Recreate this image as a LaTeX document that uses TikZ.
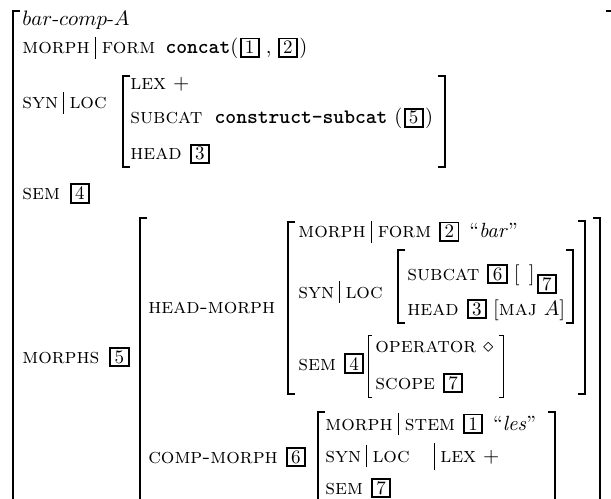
\documentclass[tikz,border=0pt]{standalone}
\usetikzlibrary{positioning}
\newcommand{\attr}[1]{{\fontsize{11.2}{14}\selectfont\textsc{#1}}}

\begin{document}
\begin{tikzpicture}[x=0.525pt,y=-0.525pt,
    lbl/.style={anchor=base west,inner sep=0pt,font=\fontsize{10.8}{13}\selectfont},
    tag/.style={draw,line width=1pt,inner sep=0pt,minimum size=9.6pt},
    brk/.style={line width=1pt},
    sbrk/.style={line width=0.5pt},
    pipe/.style={line width=0.5pt}]
  \useasboundingbox (0,0) rectangle (611,499);
  % outer matrix
  \draw[brk] (20,11) -| (13,505);
  \draw[brk] (606,11) -| (613,505);
  \node[lbl] (type) at (22,26) {$bar$-$comp$-$A$};
  % MORPH | FORM
  \node[lbl] (morph) at (22,54) {\attr{morph}};
  \node[lbl,base right=6pt of morph] (form) {\attr{form}};
  \draw[pipe] ([xshift=3pt,yshift=-2.5pt]morph.base east) -- ++(0,11.5pt);
  \node[lbl,base right=5pt of form] (concat) {\texttt{\bfseries concat}(};
  \node[tag,base right=0.5pt of concat] (t1) {1};
  \node[lbl,base right=3pt of t1] (comma) {,};
  \node[tag,base right=3pt of comma] (t2) {2};
  \node[lbl,base right=0.5pt of t2] (close) {)};
  % SYN | LOC
  \node[lbl] (syn) at (22,109) {\attr{syn}};
  \node[lbl,base right=5.5pt of syn] (loc) {\attr{loc}};
  \draw[pipe] ([xshift=2.75pt,yshift=-2.5pt]syn.base east) -- ++(0,11.5pt);
  \draw[brk] (130,76) -| (123,167) -- (130,167);
  \draw[brk] (438,76) -| (445,167) -- (438,167);
  \node[lbl] (lex) at (130,90) {\attr{lex} $+$};
  \node[lbl] (subcat) at (130,124) {\attr{subcat}};
  \node[lbl,base right=6pt of subcat] (cs) {\texttt{\bfseries construct-subcat} (};
  \node[tag,base right=0.5pt of cs] (t5) {5};
  \node[lbl,base right=0.5pt of t5] (csr) {)};
  \node[lbl] (head) at (130,160) {\attr{head}};
  \node[tag,base right=4pt of head] (t3) {3};
  % SEM
  \node[lbl] (sem) at (22,200) {\attr{sem}};
  \node[tag,base right=5pt of sem] (t4) {4};
  % MORPHS
  \node[lbl] (morphs) at (22,363) {\attr{morphs}};
  \node[tag,base right=5pt of morphs] (t5b) {5};
  \draw[brk] (147,218) -| (140,505);
  \draw[brk] (593,218) -| (600,505);
  % HEAD-MORPH
  \node[lbl] (hm) at (148,313) {\attr{head-morph}};
  \draw[brk] (295,222) -| (288,394) -- (295,394);
  \draw[brk] (578,221) -| (585,394) -- (578,394);
  \node[lbl] (hmorph) at (298,238) {\attr{morph}};
  \node[lbl,base right=6pt of hmorph] (hform) {\attr{form}};
  \draw[pipe] ([xshift=3pt,yshift=-2.5pt]hmorph.base east) -- ++(0,11.5pt);
  \node[tag,base right=4pt of hform] (t2b) {2};
  \node[lbl,base right=5pt of t2b] (bar) {``\textit{bar}''};
  \node[lbl] (hsyn) at (298,298) {\attr{syn}};
  \node[lbl,base right=5.5pt of hsyn] (hloc) {\attr{loc}};
  \draw[pipe] ([xshift=2.75pt,yshift=-2.5pt]hsyn.base east) -- ++(0,11.5pt);
  \draw[brk] (405,250) -| (398,323) -- (405,323);
  \draw[brk] (566,250) -| (573,323) -- (566,323);
  \node[lbl] (hsubcat) at (407,280) {\attr{subcat}};
  \node[tag,base right=4pt of hsubcat] (t6) {6};
  \node[lbl,base right=3pt of t6] (nil) {$[\;\,]$};
  \node[tag,anchor=west] (t7) at ([xshift=1pt,yshift=-2pt]nil.base east) {7};
  \node[lbl] (hhead) at (407,315) {\attr{head}};
  \node[tag,base right=4pt of hhead] (t3b) {3};
  \node[lbl,base right=3pt of t3b] (maj) {$\bigl[\mbox{\attr{maj}}\ A\bigr]$};
  \node[lbl] (hsem) at (298,370) {\attr{sem}};
  \node[tag,base right=4pt of hsem] (t4b) {4};
  \draw[sbrk] (372,335) -| (368,397) -- (372,397);
  \draw[sbrk] (499,335) -| (503,397) -- (499,397);
  \node[lbl] (op) at (375,352) {\attr{operator} $\diamond$};
  \node[lbl] (scope) at (375,389) {\attr{scope}};
  \node[tag,base right=4pt of scope] (t7b) {7};
  % COMP-MORPH
  \node[lbl] (cm) at (148,463) {\attr{comp-morph}};
  \node[tag,base right=4pt of cm] (t6b) {6};
  \draw[brk] (325,412) -| (318,505);
  \draw[brk] (548,412) -| (555,505);
  \node[lbl] (cmorph) at (325,430) {\attr{morph}};
  \node[lbl,base right=6pt of cmorph] (stem) {\attr{stem}};
  \draw[pipe] ([xshift=3pt,yshift=-2.5pt]cmorph.base east) -- ++(0,11.5pt);
  \node[tag,base right=4pt of stem] (t1b) {1};
  \node[lbl,base right=5pt of t1b] (les) {``\textit{les}''};
  \node[lbl] (csyn) at (325,462) {\attr{syn}};
  \node[lbl,base right=5.5pt of csyn] (cloc) {\attr{loc}};
  \draw[pipe] ([xshift=2.75pt,yshift=-2.5pt]csyn.base east) -- ++(0,11.5pt);
  \node[lbl] (clex) at (440,462) {\attr{lex} $+$};
  \draw[sbrk] ([xshift=-3pt,yshift=-4pt]clex.base west) -- ++(0,14pt);
  \node[lbl] (csem) at (325,494) {\attr{sem}};
  \node[tag,base right=4pt of csem] (t7c) {7};
\end{tikzpicture}
\end{document}
